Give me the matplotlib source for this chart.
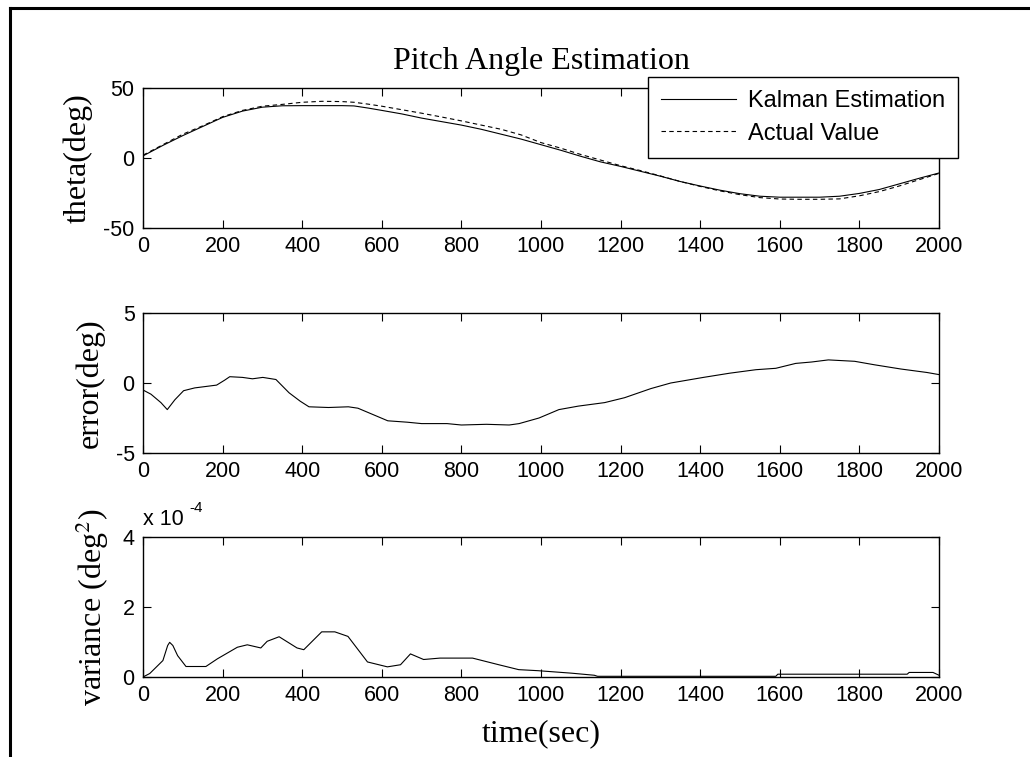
import numpy as np
import matplotlib
matplotlib.use('Agg')
import matplotlib.pyplot as plt
from matplotlib.lines import Line2D

plt.rcParams['mathtext.fontset'] = 'stix'
plt.rcParams['axes.unicode_minus'] = False

# ---- data ----
t_theta = [0, 50, 100, 150, 200, 250, 300, 350, 400, 450, 500, 530, 565, 600, 650, 700,
           750, 800, 850, 900, 950, 1000, 1050, 1100, 1150, 1200, 1250, 1300, 1350, 1400,
           1450, 1500, 1550, 1600, 1650, 1700, 1750, 1800, 1850, 1900, 1950, 2000]
theta_kalman = [1.5, 9.0, 16.0, 22.5, 29.0, 33.5, 36.3, 37.3, 37.4, 37.4, 37.4, 37.2, 35.7, 34.0,
                31.5, 28.5, 26.0, 23.5, 20.5, 17.0, 13.5, 9.5, 5.5, 1.2, -2.8, -6.0, -9.5,
                -13.0, -16.8, -20.0, -23.0, -25.5, -27.3, -28.0, -28.0, -28.0, -27.3, -25.3,
                -22.5, -18.5, -14.5, -10.7]
theta_actual = [2.0, 9.5, 17.0, 23.0, 29.5, 34.0, 37.0, 38.3, 39.8, 40.5, 40.3, 39.8, 38.5, 37.0,
                34.5, 32.0, 29.3, 26.5, 23.5, 20.5, 16.5, 11.0, 7.0, 2.5, -1.5, -5.5, -9.0,
                -12.8, -16.8, -20.3, -23.5, -26.2, -28.3, -29.3, -29.5, -29.5, -29.2, -27.0,
                -24.0, -20.0, -15.5, -11.0]

t_err = [0, 20, 45, 61, 80, 102, 130, 185, 205, 218, 250, 275, 301, 334, 367, 395, 417, 466,
         516, 540, 565, 615, 664, 700, 764, 800, 863, 920, 945, 995, 1045, 1094, 1160, 1210,
         1276, 1326, 1408, 1474, 1540, 1590, 1640, 1680, 1722, 1788, 1838, 1904, 1970, 2000]
err = [-0.5, -0.8, -1.4, -1.9, -1.2, -0.55, -0.35, -0.15, 0.2, 0.45, 0.4, 0.3, 0.4, 0.25,
       -0.7, -1.3, -1.7, -1.75, -1.7, -1.8, -2.1, -2.7, -2.8, -2.9, -2.9, -3.0, -2.95, -3.0,
       -2.9, -2.5, -1.9, -1.65, -1.4, -1.05, -0.4, 0.0, 0.4, 0.7, 0.95, 1.05, 1.4, 1.5, 1.65,
       1.55, 1.3, 1.0, 0.75, 0.6]

t_var = [0, 17, 50, 62, 67, 75, 87, 108, 158, 187, 237, 262, 296, 312, 342, 387, 404, 449,
         482, 515, 564, 614, 647, 672, 705, 746, 828, 894, 944, 993, 1076, 1134, 1142, 1590,
         1595, 1920, 1925, 1985, 2000]
var_e4 = [0.0, 0.1, 0.47, 0.9, 0.99, 0.9, 0.61, 0.3, 0.3, 0.52, 0.85, 0.92, 0.83, 1.02, 1.15,
          0.83, 0.78, 1.29, 1.29, 1.16, 0.43, 0.29, 0.35, 0.66, 0.5, 0.54, 0.54, 0.35, 0.21,
          0.18, 0.11, 0.05, 0.02, 0.02, 0.08, 0.08, 0.13, 0.13, 0.05]

xticks = np.arange(0, 2001, 200)

fig = plt.figure(figsize=(10.3, 7.57), dpi=100)
fig.patch.set_facecolor('white')

W, H = 1030.0, 757.0
left = 143 / W
width = (939 - 143) / W
tops = [88, 313, 537]
hgt = 140 / H

label_font = dict(family='Liberation Serif', fontsize=23)
tick_font = 'Liberation Sans'

axes = []
for top in tops:
    ax = fig.add_axes([left, 1 - (top + 140) / H, width, hgt])
    ax.set_xlim(0, 2000)
    ax.set_xticks(xticks)
    ax.tick_params(direction='in', top=True, right=True, length=6, width=0.8,
                   labelsize=15.5, pad=6)
    for sp in ax.spines.values():
        sp.set_linewidth(1.0)
    axes.append(ax)

ax1, ax2, ax3 = axes

# top: pitch angle
ax1.plot(t_theta, theta_kalman, color='black', lw=0.8, label='Kalman Estimation')
ax1.plot(t_theta, theta_actual, color='black', lw=0.8, ls=(0, (4, 3)), label='Actual Value')
ax1.set_ylim(-50, 50)
ax1.set_yticks([-50, 0, 50])
ax1.set_ylabel('theta(deg)', labelpad=8, **label_font)
ax1.set_title('Pitch Angle Estimation', pad=14, **label_font)
leg = ax1.legend(loc='upper right', bbox_to_anchor=(958 / W, 1 - 77 / H),
                 bbox_transform=fig.transFigure, borderaxespad=0,
                 prop={'family': tick_font, 'size': 17}, fancybox=False,
                 framealpha=1, edgecolor='black', handlelength=3.2,
                 handletextpad=0.5, labelspacing=0.45, borderpad=0.55)
leg.get_frame().set_linewidth(1.0)

# middle: error
ax2.plot(t_err, err, color='black', lw=0.8)
ax2.set_ylim(-5, 5)
ax2.set_yticks([-5, 0, 5])
ax2.set_ylabel('error(deg)', labelpad=8, **label_font)

# bottom: variance (values in units of 1e-4)
ax3.plot(t_var, var_e4, color='black', lw=0.8)
ax3.set_ylim(0, 4)
ax3.set_yticks([0, 2, 4])
ax3.set_ylabel('variance (deg$^2$)', labelpad=8, **label_font)
ax3.set_xlabel('time(sec)', labelpad=9, **label_font)
ax3.text(0, 1.05, 'x 10', transform=ax3.transAxes, ha='left', va='bottom',
         family=tick_font, fontsize=15.5)
ax3.text(0.058, 1.16, '-4', transform=ax3.transAxes, ha='left', va='bottom',
         family=tick_font, fontsize=11)

for ax in axes:
    for lab in ax.get_xticklabels() + ax.get_yticklabels():
        lab.set_fontfamily(tick_font)

# frame lines of the cropped picture (top and left)
fig.add_artist(Line2D([10 / W, 1], [1 - 8 / H, 1 - 8 / H], transform=fig.transFigure,
                      color='black', lw=2.2))
fig.add_artist(Line2D([10 / W, 10 / W], [0, 1 - 8 / H], transform=fig.transFigure,
                      color='black', lw=2.2))

fig.savefig('out.png', dpi=100)
